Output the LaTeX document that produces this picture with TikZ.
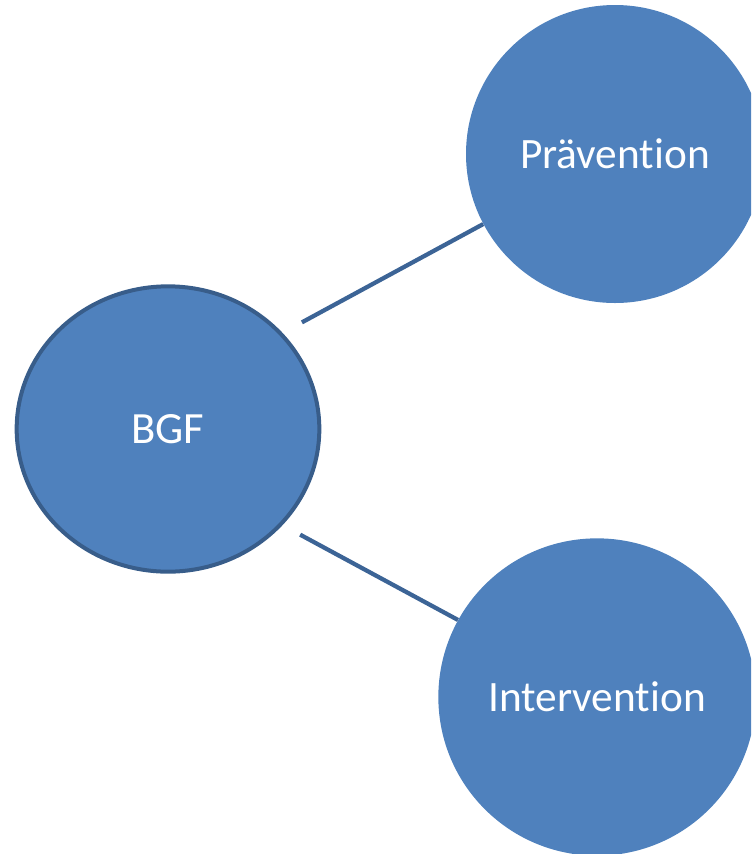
\documentclass[tikz,border=0pt]{standalone}
\usepackage{fontspec}
\setmainfont[RawFeature=-liga]{Carlito}
\usetikzlibrary{shapes.geometric}
\definecolor{bgfill}{HTML}{4F81BD}
\definecolor{bgline}{HTML}{385D8A}
\definecolor{lnk}{HTML}{3C6496}
\tikzset{
  bubble/.style={circle,fill=bgfill,text=white,inner sep=0pt,
    font=\fontsize{32.5}{39}\selectfont},
  hub/.style={ellipse,fill=bgfill,draw=bgline,line width=3pt,text=white,inner sep=0pt,
    minimum width=227pt,minimum height=214pt,font=\fontsize{33.5}{40}\selectfont},
  link/.style={draw=lnk,line width=3.2pt}
}
\begin{document}
\begin{tikzpicture}[x=0.75pt,y=-0.75pt]
\useasboundingbox (0,0) rectangle (751,854);
\clip (0,0) rectangle (751,854);
\node[hub] at (168,429) (bgf) {BGF};
\node[bubble,minimum size=223.5pt] at (615,154) (prav) {Prävention};
\node[bubble,minimum size=238pt] at (597,697) (intv) {Intervention};
\draw[link,shorten <=16.5pt] (bgf.40.4) -- (prav.208.4);
\draw[link,shorten <=15pt] (bgf.320.8) -- (intv.151);
\end{tikzpicture}
\end{document}
